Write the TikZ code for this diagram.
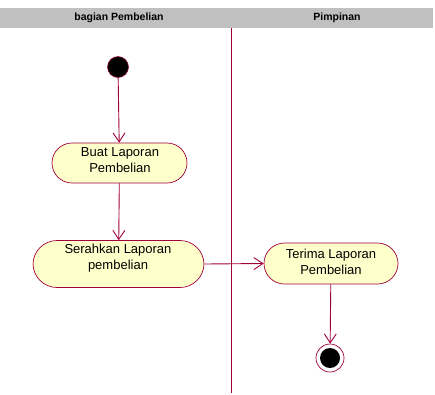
\documentclass[tikz,border=0pt]{standalone}
\usepackage{fontspec}
\setmainfont{Liberation Sans}
\usetikzlibrary{arrows.meta}
\definecolor{umlred}{HTML}{A0003C}
\definecolor{actfill}{HTML}{FFFFCC}
\definecolor{lanegray}{HTML}{C0C0C0}
\begin{document}
\begin{tikzpicture}[x=1pt,y=-1pt,
  action/.style={draw=umlred,fill=actfill,line width=0.7pt,
    rounded corners=#1,inner sep=0pt},
  acttext/.style={align=center,inner sep=0pt,font=\fontsize{13}{16}\selectfont},
  flow/.style={draw=umlred,line width=0.9pt,-{Straight Barb[length=9pt,width=12pt,line width=0.9pt]}},
  lanehead/.style={font=\bfseries\fontsize{10.5}{12}\selectfont}]
\useasboundingbox (0,0) rectangle (435,394);
% swimlane header and divider
\fill[lanegray] (0,8) rectangle (433,28);
\node[lanehead] (h1) at (119,18) {bagian Pembelian};
\node[lanehead] (h2) at (337,18) {Pimpinan};
\draw[umlred,line width=0.8pt] (231,28) -- (231,393);
% start node
\node[circle,fill=black,draw=umlred,line width=0.5pt,minimum size=21pt,inner sep=0pt] (start) at (118,67) {};
% actions
\node[action=20pt,minimum width=135pt,minimum height=40pt] (buat) at (119.5,163) {};
\node[acttext] (buatT) at (120,160.5) {Buat Laporan\\Pembelian};
\node[action=24pt,minimum width=171pt,minimum height=47pt] (serah) at (118.5,264) {};
\node[acttext] (serahT) at (118,258) {Serahkan Laporan\\pembelian};
\node[action=20.5pt,minimum width=134pt,minimum height=41pt] (terima) at (331,263.5) {};
\node[acttext] (terimaT) at (331,261.5) {Terima Laporan\\Pembelian};
% end node
\node[circle,draw=umlred,fill=white,line width=0.7pt,minimum size=28pt,inner sep=0pt] (end) at (330,358) {};
\fill[black] (end.center) circle (10pt);
% flows
\draw[flow] (start) -- (buat);
\draw[flow] (buat) -- (serah);
\draw[flow] (serah.east) -- (terima.west);
\draw[flow] (terima) -- (end);
\end{tikzpicture}
\end{document}
